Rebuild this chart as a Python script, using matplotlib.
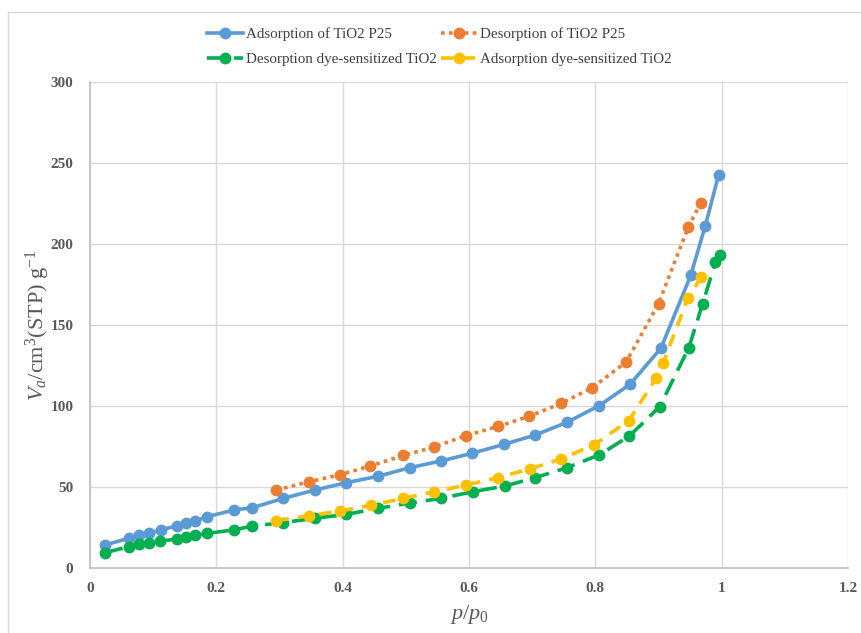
import matplotlib
matplotlib.use("Agg")
import matplotlib.pyplot as plt
from matplotlib.lines import Line2D

plt.rcParams['font.family'] = ['Liberation Serif', 'DejaVu Serif']
plt.rcParams['mathtext.fontset'] = 'custom'
plt.rcParams['mathtext.rm'] = 'Liberation Serif'
plt.rcParams['mathtext.it'] = 'Liberation Serif:italic'

# ---- data ----
ads_p25_x = [0.024, 0.061, 0.077, 0.093, 0.112, 0.138, 0.152, 0.167, 0.186, 0.228, 0.257,
             0.306, 0.356, 0.406, 0.456, 0.506, 0.555, 0.605, 0.655, 0.705, 0.755, 0.806,
             0.855, 0.904, 0.951, 0.974, 0.995]
ads_p25_y = [14.2, 18.3, 20.2, 21.4, 23.5, 26.1, 27.6, 29.2, 31.7, 35.8, 37.2,
             43.0, 48.1, 52.7, 56.6, 61.9, 66.0, 70.8, 76.3, 82.1, 89.9, 100.2,
             113.4, 135.8, 180.6, 211.1, 242.4]

des_p25_x = [0.295, 0.347, 0.396, 0.444, 0.496, 0.545, 0.595, 0.646, 0.695, 0.746, 0.795,
             0.849, 0.900, 0.947, 0.967]
des_p25_y = [48.1, 53.3, 57.6, 63.0, 69.5, 74.7, 81.7, 87.4, 93.6, 101.6, 111.3,
             127.2, 163.2, 210.3, 225.5]

des_dye_x = [0.024, 0.062, 0.078, 0.093, 0.111, 0.137, 0.152, 0.167, 0.186, 0.228, 0.257,
             0.306, 0.356, 0.406, 0.456, 0.506, 0.556, 0.606, 0.657, 0.705, 0.755, 0.806,
             0.854, 0.902, 0.948, 0.970, 0.990, 0.997]
des_dye_y = [9.5, 13.2, 14.6, 15.2, 16.5, 17.9, 19.3, 20.2, 21.4, 23.5, 25.9,
             28.0, 30.7, 33.1, 36.8, 40.1, 43.0, 47.1, 50.6, 55.8, 61.9, 69.8,
             81.5, 99.6, 136.0, 163.2, 188.7, 193.2]

ads_dye_x = [0.295, 0.347, 0.396, 0.445, 0.496, 0.545, 0.595, 0.646, 0.696, 0.746, 0.798,
             0.853, 0.896, 0.907, 0.947, 0.968]
ads_dye_y = [29.2, 32.3, 35.2, 38.7, 43.0, 47.1, 51.2, 55.8, 61.1, 67.3, 76.1,
             90.9, 117.1, 126.3, 166.9, 179.8]

labels = ["Adsorption of TiO2 P25", "Desorption of TiO2 P25",
          "Desorption dye-sensitized TiO2", "Adsorption dye-sensitized TiO2"]
colors = ["#5B9BD5", "#ED7D31", "#00B050", "#FFC000"]

xticks = [0, 0.2, 0.4, 0.6, 0.8, 1, 1.2]
xticklabels = ["0", "0.2", "0.4", "0.6", "0.8", "1", "1.2"]
yticks = [0, 50, 100, 150, 200, 250, 300]

# ---- figure ----
fig = plt.figure(figsize=(8.61, 6.33), dpi=100)
ax = fig.add_axes([90/861, 1-568/633, (848-90)/861, (568-82)/633])

lw = 2.6
ms = 7.5
h1, = ax.plot(ads_p25_x, ads_p25_y, color=colors[0], lw=lw, marker='o', ms=ms,
              linestyle='-', label=labels[0], zorder=3)
h2, = ax.plot(des_p25_x, des_p25_y, color=colors[1], lw=lw, marker='o', ms=ms,
              linestyle=(0, (1, 1.2)), label=labels[1], zorder=3)
h3, = ax.plot(des_dye_x, des_dye_y, color=colors[2], lw=lw, marker='o', ms=ms,
              linestyle=(0, (5, 2.5)), label=labels[2], zorder=3)
h4, = ax.plot(ads_dye_x, ads_dye_y, color=colors[3], lw=lw, marker='o', ms=ms,
              linestyle=(0, (3.5, 2.5)), label=labels[3], zorder=3)

ax.set_xlim(0, 1.2)
ax.set_ylim(0, 300)
ax.set_xticks(xticks)
ax.set_xticklabels(xticklabels)
ax.set_yticks(yticks)

grid_c = "#D9D9D9"
ax.grid(True, color=grid_c, lw=1.0, zorder=0)
ax.set_axisbelow(True)
for s in ['top', 'right']:
    ax.spines[s].set_visible(False)
for s in ['left', 'bottom']:
    ax.spines[s].set_color("#BFBFBF")
    ax.spines[s].set_linewidth(1.2)

ax.tick_params(axis='both', length=0, labelsize=11, labelcolor="#595959")
ax.tick_params(axis='x', pad=10)
ax.tick_params(axis='y', pad=12)
for t in ax.get_xticklabels() + ax.get_yticklabels():
    t.set_fontweight('bold')

ax.set_ylabel(r"$\mathit{V_a}$/cm$^{3}$(STP) g$^{-1}$", fontsize=16, color="#595959", labelpad=-1)
ax.set_xlabel(r"$\mathit{p}/\mathit{p}_{0}$", fontsize=16, color="#595959", labelpad=6)

leg = fig.legend([h1, h3, h2, h4], [labels[0], labels[2], labels[1], labels[3]],
                 ncol=2, loc='upper center', bbox_to_anchor=(0.51, 0.978),
                 frameon=False, fontsize=10.8, handlelength=2.4, columnspacing=0.3,
                 handletextpad=0.2, labelspacing=0.75)
for t in leg.get_texts():
    t.set_color("#404040")

# outer chart frame (top and left edges visible)
fig.add_artist(Line2D([8/861, 1.0], [1-12/633, 1-12/633], transform=fig.transFigure,
                      color="#D9D9D9", lw=1.0))
fig.add_artist(Line2D([8/861, 8/861], [0.0, 1-12/633], transform=fig.transFigure,
                      color="#D9D9D9", lw=1.0))

fig.savefig("out.png", dpi=100)
